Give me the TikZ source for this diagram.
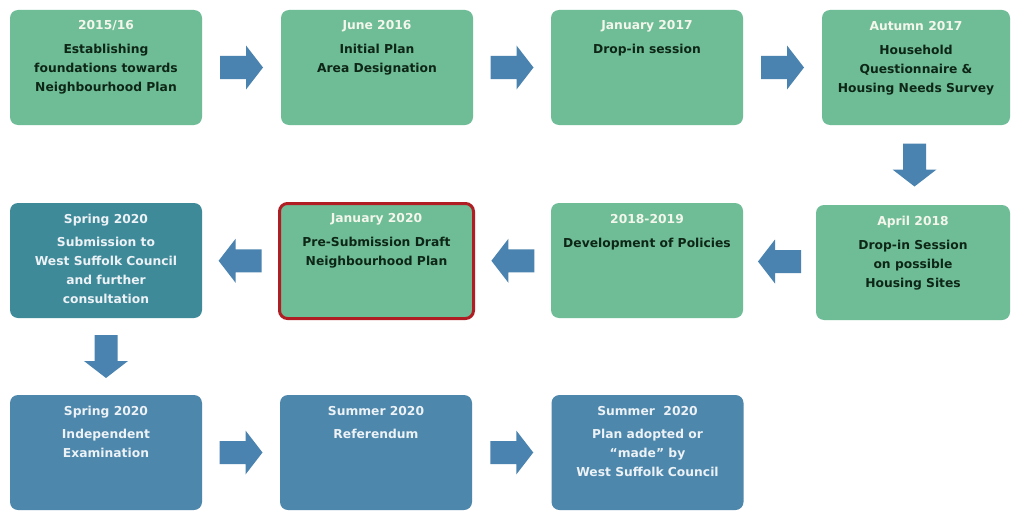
\documentclass[tikz,border=0pt]{standalone}
\usepackage{fontspec}
\setmainfont{DejaVu Sans}
\usetikzlibrary{calc}
\definecolor{boxgreen}{RGB}{110,189,151}
\definecolor{boxteal}{RGB}{62,138,153}
\definecolor{boxblue}{RGB}{77,135,172}
\definecolor{arrowc}{RGB}{74,131,175}
\definecolor{redframe}{RGB}{176,30,36}
\definecolor{titlec}{RGB}{244,246,236}
\definecolor{bodyc}{RGB}{14,38,22}
\definecolor{lightc}{RGB}{236,242,246}
\tikzset{
  stagebox/.style={rectangle, rounded corners=8pt, minimum width=192pt, minimum height=115pt, inner sep=0pt, draw=none},
  greenbox/.style={stagebox, fill=boxgreen},
  tealbox/.style={stagebox, fill=boxteal},
  bluebox/.style={stagebox, fill=boxblue},
  stagetext/.style={anchor=north, inner sep=0pt, align=center, font=\fontsize{12.3}{19}\selectfont\bfseries},
  blockarrow/.pic={\fill[arrowc] (-21.5,-11.5) -- (4.5,-11.5) -- (4.5,-22) -- (21.5,0) -- (4.5,22) -- (4.5,11.5) -- (-21.5,11.5) -- cycle;}
}
\begin{document}
\begin{tikzpicture}[x=1pt,y=-1pt]
\useasboundingbox (0,0) rectangle (1011,511);
\fill[white] (0,0) rectangle (1011,511);
% row 1
\node[greenbox] (b1) at (106,67.5) {};
\node[greenbox] (b2) at (377,67.5) {};
\node[greenbox] (b3) at (647,67.5) {};
\node[greenbox, minimum width=188pt] (b4) at (916,67.5) {};
% row 2
\node[tealbox] (b5) at (106,260.5) {};
\node[greenbox, draw=redframe, line width=3pt, minimum width=194pt, minimum height=115pt] (b6) at (376.5,261) {};
\node[greenbox] (b7) at (647,260.5) {};
\node[greenbox, minimum width=194pt] (b8) at (913,262.5) {};
% row 3
\node[bluebox] (b9) at (106,452.5) {};
\node[bluebox] (b10) at (376,452.5) {};
\node[bluebox] (b11) at (647.5,452.5) {};
% texts
\node[stagetext] (t1) at ($(b1.north)+(0,10)$) {\textcolor{titlec}{2015/16}\\[5pt]\textcolor{bodyc}{Establishing}\\\textcolor{bodyc}{foundations towards}\\\textcolor{bodyc}{Neighbourhood Plan}};
\node[stagetext] (t2) at ($(b2.north)+(0,10)$) {\textcolor{titlec}{June 2016}\\[5pt]\textcolor{bodyc}{Initial Plan}\\\textcolor{bodyc}{Area Designation}};
\node[stagetext] (t3) at ($(b3.north)+(0,10)$) {\textcolor{titlec}{January 2017}\\[5pt]\textcolor{bodyc}{Drop-in session}};
\node[stagetext] (t4) at ($(b4.north)+(0,11)$) {\textcolor{titlec}{Autumn 2017}\\[5pt]\textcolor{bodyc}{Household}\\\textcolor{bodyc}{Questionnaire \&}\\\textcolor{bodyc}{Housing Needs Survey}};
\node[stagetext] (t5) at ($(b5.north)+(0,11)$) {\textcolor{lightc}{Spring 2020}\\[4pt]\textcolor{lightc}{Submission to}\\\textcolor{lightc}{West Suffolk Council}\\\textcolor{lightc}{and further}\\\textcolor{lightc}{consultation}};
\node[stagetext] (t6) at ($(b6.north)+(0,11)$) {\textcolor{titlec}{January 2020}\\[5pt]\textcolor{bodyc}{Pre-Submission Draft}\\\textcolor{bodyc}{Neighbourhood Plan}};
\node[stagetext] (t7) at ($(b7.north)+(0,11)$) {\textcolor{titlec}{2018-2019}\\[5pt]\textcolor{bodyc}{Development of Policies}};
\node[stagetext] (t8) at ($(b8.north)+(0,11)$) {\textcolor{titlec}{April 2018}\\[5pt]\textcolor{bodyc}{Drop-in Session}\\\textcolor{bodyc}{on possible}\\\textcolor{bodyc}{Housing Sites}};
\node[stagetext] (t9) at ($(b9.north)+(0,11)$) {\textcolor{lightc}{Spring 2020}\\[4pt]\textcolor{lightc}{Independent}\\\textcolor{lightc}{Examination}};
\node[stagetext] (t10) at ($(b10.north)+(0,11)$) {\textcolor{lightc}{Summer 2020}\\[4pt]\textcolor{lightc}{Referendum}};
\node[stagetext] (t11) at ($(b11.north)+(0,11)$) {\textcolor{lightc}{Summer\ \ 2020}\\[4pt]\textcolor{lightc}{Plan adopted or}\\\textcolor{lightc}{“made” by}\\\textcolor{lightc}{West Suffolk Council}};
% arrows
\pic at ($(b1.east)!0.5!(b2.west)$) {blockarrow};
\pic at ($(b2.east)!0.5!(b3.west)$) {blockarrow};
\pic at ($(b3.east)!0.5!(b4.west)$) {blockarrow};
\pic[rotate=-90] at ($(b4.south)!0.5!(b8.north)$) {blockarrow};
\pic[rotate=180] at ($(b8.west)!0.5!(b7.east)$) {blockarrow};
\pic[rotate=180] at ($(b7.west)!0.5!(b6.east)$) {blockarrow};
\pic[rotate=180] at ($(b6.west)!0.5!(b5.east)$) {blockarrow};
\pic[rotate=-90] at ($(b5.south)!0.5!(b9.north)$) {blockarrow};
\pic at ($(b9.east)!0.5!(b10.west)$) {blockarrow};
\pic at ($(b10.east)!0.5!(b11.west)$) {blockarrow};
\end{tikzpicture}
\end{document}
